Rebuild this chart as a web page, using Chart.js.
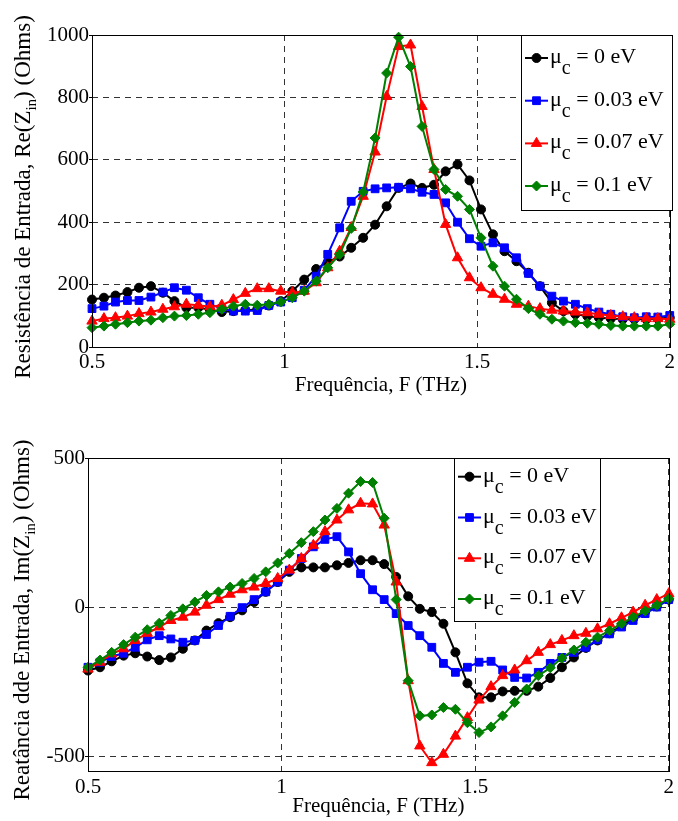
<!DOCTYPE html>
<html>
<head>
<meta charset="utf-8">
<script src="https://cdn.jsdelivr.net/npm/chart.js@4.4.0/dist/chart.umd.min.js"></script>
<style>
    body { margin: 0; background: #fff; width: 678px; height: 821px; overflow: hidden; position: relative; }
    canvas { position: absolute; left: 0; }
</style>
</head>
<body>
<canvas id="chartRe" width="678" height="410" style="top:0px"></canvas>
<canvas id="chartIm" width="678" height="411" style="top:410px"></canvas>
<script>
    // frequency points (THz), 50 points from 0.5 to 2
    const freq = [0.500, 0.531, 0.561, 0.592, 0.622, 0.653, 0.684, 0.714, 0.745, 0.776,
                  0.806, 0.837, 0.867, 0.898, 0.929, 0.959, 0.990, 1.020, 1.051, 1.082,
                  1.112, 1.143, 1.173, 1.204, 1.235, 1.265, 1.296, 1.327, 1.357, 1.388,
                  1.418, 1.449, 1.480, 1.510, 1.541, 1.571, 1.602, 1.633, 1.663, 1.694,
                  1.724, 1.755, 1.786, 1.816, 1.847, 1.878, 1.908, 1.939, 1.969, 2.000];

    // Re(Zin)
    const reMu0   = [152, 158, 165, 176, 190, 195, 174, 147, 126, 126,
                     120, 112, 115, 118, 120, 133, 147, 179, 216, 250,
                     272, 290, 318, 350, 392, 451, 510, 524, 510, 520,
                     563, 585, 534, 441, 361, 307, 275, 238, 195, 142,
                     115, 105, 99, 94, 91, 89, 89, 89, 91, 94];
    const reMu003 = [123, 131, 144, 149, 149, 160, 176, 190, 182, 158,
                     137, 123, 115, 115, 117, 133, 144, 158, 182, 227,
                     297, 382, 467, 499, 507, 510, 512, 507, 496, 489,
                     462, 400, 347, 323, 334, 318, 286, 236, 195, 163,
                     147, 137, 123, 112, 105, 97, 94, 97, 96, 101];
    const reMu007 = [83, 91, 94, 99, 107, 112, 121, 129, 137, 134,
                     129, 134, 152, 172, 187, 187, 179, 174, 179, 206,
                     254, 307, 383, 483, 625, 803, 963, 968, 771, 569,
                     393, 286, 222, 190, 169, 153, 137, 131, 123, 118,
                     115, 112, 110, 105, 101, 97, 94, 91, 91, 89];
    const reMu01  = [62, 67, 73, 78, 83, 86, 94, 99, 101, 105,
                     110, 121, 131, 137, 134, 137, 144, 158, 179, 211,
                     254, 297, 380, 497, 670, 878, 993, 899, 707, 569,
                     505, 483, 441, 350, 259, 195, 153, 123, 105, 89,
                     83, 78, 76, 73, 69, 67, 67, 67, 67, 73];

    // Im(Zin)
    const imMu0   = [-213, -202, -182, -163, -155, -166, -178, -169, -140, -112,
                     -79, -54, -34, -11, 17, 51, 84, 118, 133, 133,
                     133, 140, 148, 157, 157, 144, 101, 36, -6, -17,
                     -56, -152, -256, -303, -303, -283, -281, -281, -267, -238,
                     -202, -169, -137, -112, -88, -62, -39, -17, 2, 25];
    const imMu003 = [-202, -185, -166, -155, -135, -110, -96, -107, -118, -112,
                     -92, -62, -31, -2, 25, 51, 84, 124, 163, 202,
                     227, 236, 185, 112, 58, 25, -22, -62, -96, -135,
                     -189, -219, -202, -185, -182, -211, -236, -238, -219, -189,
                     -169, -152, -135, -110, -90, -67, -45, -22, 0, 25];
    const imMu007 = [-208, -185, -157, -140, -112, -88, -67, -45, -34, -17,
                     6, 25, 43, 58, 67, 79, 96, 124, 163, 207,
                     253, 292, 326, 348, 346, 275, 84, -247, -466, -522,
                     -494, -433, -371, -312, -267, -230, -211, -180, -152, -126,
                     -112, -96, -88, -73, -56, -36, -17, 6, 25, 45];
    const imMu01  = [-202, -178, -152, -126, -101, -76, -54, -28, -6, 17,
                     39, 51, 67, 79, 96, 118, 148, 180, 216, 253,
                     292, 331, 382, 421, 418, 298, 25, -247, -365, -362,
                     -337, -343, -388, -421, -402, -365, -320, -275, -230, -204,
                     -171, -144, -118, -101, -79, -56, -34, -13, 6, 28];

    const legendValues = ['0 eV', '0.03 eV', '0.07 eV', '0.1 eV'];
    const freqTicks = [0.5, 1, 1.5, 2];
    const reTicks = [0, 200, 400, 600, 800, 1000];
    const imTicks = [-500, 0, 500];

    const seriesColors = ['#000000', '#0000ff', '#ff0000', '#008000'];
    const pointStyles = ['circle', 'rect', 'triangle', 'rectRot'];
    const pointSizes = [4.5, 5.5, 6, 5];
    const serif = "'Liberation Serif', 'Times New Roman', serif";

    Chart.defaults.font.family = serif;
    Chart.defaults.color = '#000';

    function makeDatasets(seriesList) {
        return seriesList.map((vals, k) => ({
            label: '\u03bcc = ' + legendValues[k],
            data: freq.map((f, i) => ({ x: f, y: vals[i] })),
            borderColor: seriesColors[k],
            backgroundColor: seriesColors[k],
            borderWidth: 2,
            pointStyle: pointStyles[k],
            pointRadius: pointSizes[k],
            pointHoverRadius: pointSizes[k],
            pointBorderWidth: 1,
            tension: 0,
            clip: false,
            order: 4 - k
        }));
    }

    function drawPointShape(ctx, style, r, x, y) {
        if (Chart.helpers && Chart.helpers.drawPoint) {
            Chart.helpers.drawPoint(ctx, { pointStyle: style, radius: r, borderWidth: 1, rotation: 0 }, x, y);
        } else {
            ctx.beginPath(); ctx.arc(x, y, r, 0, Math.PI * 2); ctx.fill();
        }
    }

    // frame box, y title with subscript, legend with subscript
    const matlabPlugin = {
        id: 'matlab',
        afterDraw(chart, args, opts) {
            const ctx = chart.ctx;
            const a = chart.chartArea;
            ctx.save();
            ctx.strokeStyle = '#000';
            ctx.lineWidth = 1;
            ctx.setLineDash([]);
            ctx.strokeRect(Math.round(a.left) + 0.5, Math.round(a.top) + 0.5,
                           Math.round(a.right - a.left), Math.round(a.bottom - a.top));

            // y title
            const t = opts.yTitle;
            ctx.translate(t.x, t.y);
            ctx.rotate(-Math.PI / 2);
            ctx.textBaseline = 'middle';
            ctx.fillStyle = '#000';
            let total = 0;
            t.parts.forEach(p => {
                ctx.font = (p.sub ? t.subSize : t.size) + 'px ' + serif;
                p.w = ctx.measureText(p.text).width;
                total += p.w;
            });
            let tx = -total / 2;
            t.parts.forEach(p => {
                ctx.font = (p.sub ? t.subSize : t.size) + 'px ' + serif;
                ctx.fillText(p.text, tx, p.sub ? t.subShift : 0);
                tx += p.w;
            });
            ctx.restore();

            // legend
            const L = opts.legend;
            ctx.save();
            ctx.fillStyle = '#fff';
            ctx.fillRect(L.x, L.y, L.w, L.h);
            ctx.strokeStyle = '#000';
            ctx.lineWidth = 1;
            ctx.strokeRect(L.x + 0.5, L.y + 0.5, L.w, L.h);
            ctx.textBaseline = 'alphabetic';
            legendValues.forEach((txt, k) => {
                const ly = L.rows[k];
                ctx.strokeStyle = seriesColors[k];
                ctx.fillStyle = seriesColors[k];
                ctx.lineWidth = 2;
                ctx.beginPath();
                ctx.moveTo(L.lineX1, ly);
                ctx.lineTo(L.lineX2, ly);
                ctx.stroke();
                ctx.lineWidth = 1;
                drawPointShape(ctx, pointStyles[k], pointSizes[k], (L.lineX1 + L.lineX2) / 2, ly);
                ctx.fillStyle = '#000';
                let x = L.textX;
                const base = ly + 5;
                ctx.font = '22px ' + serif;
                ctx.fillText('\u03bc', x, base);
                x += ctx.measureText('\u03bc').width;
                ctx.font = '20px ' + serif;
                ctx.fillText('c', x, base + 11);
                x += ctx.measureText('c').width;
                ctx.font = '22px ' + serif;
                ctx.fillText(' = ' + txt, x, base);
            });
            ctx.restore();
        }
    };

    function makeOptions(cfg) {
        return {
            responsive: false,
            animation: false,
            events: [],
            layout: { padding: { top: cfg.padTop, right: 6, left: 0, bottom: 0 } },
            plugins: {
                legend: { display: false },
                tooltip: { enabled: false },
                matlab: { yTitle: cfg.yTitle, legend: cfg.legend }
            },
            scales: {
                x: {
                    type: 'linear',
                    min: 0.5,
                    max: 2,
                    afterBuildTicks: s => { s.ticks = freqTicks.map(v => ({ value: v })); },
                    afterFit: s => { s.height = cfg.xHeight; },
                    ticks: { font: { size: 21 }, color: '#000', padding: cfg.xTickPad, maxRotation: 0,
                             callback: v => String(v) },
                    grid: { color: '#333', lineWidth: 1, drawTicks: false },
                    border: { display: false, dash: [6, 5] },
                    title: { display: true, text: 'Frequência, F (THz)', font: { size: 21 },
                             color: '#000', padding: { top: 0, bottom: cfg.xTitlePad } }
                },
                y: {
                    min: cfg.yMin,
                    max: cfg.yMax,
                    afterBuildTicks: s => { s.ticks = cfg.yTicks.map(v => ({ value: v })); },
                    afterFit: s => { s.width = cfg.yWidth; },
                    ticks: { font: { size: 21 }, color: '#000', padding: 0, callback: v => String(v) },
                    grid: { color: '#333', lineWidth: 1, drawTicks: true, tickLength: 3,
                            tickColor: '#000', tickBorderDash: [] },
                    border: { display: false, dash: [6, 5] }
                }
            }
        };
    }

    var chartRe = new Chart(document.getElementById('chartRe').getContext('2d'), {
        type: 'line',
        data: { datasets: makeDatasets([reMu0, reMu003, reMu007, reMu01]) },
        options: makeOptions({
            padTop: 35, xHeight: 63, xTickPad: 3, xTitlePad: 12, yWidth: 92,
            yMin: 0, yMax: 1000, yTicks: reTicks,
            yTitle: { x: 24, y: 197, size: 23, subSize: 15, subShift: 8,
                      parts: [{ text: 'Resistência de Entrada, Re(Z' }, { text: 'in', sub: true }, { text: ') (Ohms)' }] },
            legend: { x: 521, y: 35, w: 151, h: 175, rows: [58, 100.7, 143.4, 186],
                      lineX1: 525, lineX2: 548, textX: 550 }
        }),
        plugins: [matlabPlugin]
    });

    var chartIm = new Chart(document.getElementById('chartIm').getContext('2d'), {
        type: 'line',
        data: { datasets: makeDatasets([imMu0, imMu003, imMu007, imMu01]) },
        options: makeOptions({
            padTop: 48, xHeight: 50, xTickPad: 4, xTitlePad: 2, yWidth: 88,
            yMin: -550, yMax: 500, yTicks: imTicks,
            yTitle: { x: 23, y: 210, size: 23, subSize: 15, subShift: 8,
                      parts: [{ text: 'Reatância dde Entrada, Im(Z' }, { text: 'in', sub: true }, { text: ') (Ohms)' }] },
            legend: { x: 454, y: 48, w: 146, h: 163, rows: [66.7, 107.5, 148.3, 189],
                      lineX1: 458, lineX2: 481, textX: 483 }
        }),
        plugins: [matlabPlugin]
    });
</script>
</body>
</html>
